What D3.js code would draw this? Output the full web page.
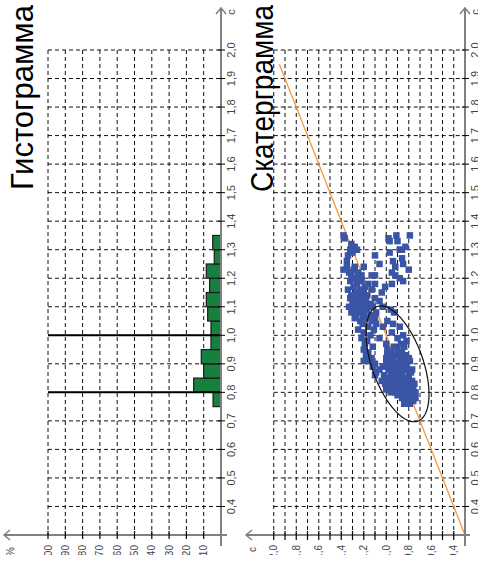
<!DOCTYPE html>
<html><head><meta charset="utf-8">
<script src="https://cdn.jsdelivr.net/npm/d3@7"></script>
<style>
body{margin:0;background:#fff}
svg{display:block}
text{font-family:"Liberation Sans",Arial,sans-serif}
</style>
</head><body>
<svg id="chart" width="478" height="564"></svg>
<script>
// ---------- data ----------
const titles = ["Гистограмма", "Скатерграмма"];
const axisUnitC = "c";
const axisUnitPct = "%";
const cTicks = [0.4,0.5,0.6,0.7,0.8,0.9,1.0,1.1,1.2,1.3,1.4,1.5,1.6,1.7,1.8,1.9,2.0];
const pctTicks = [10,20,30,40,50,60,70,80,90,100];
const vLabelTicks = [0.4,0.6,0.8,1.0,1.2,1.4,1.6,1.8,2.0];
const binStarts = [0.75,0.80,0.85,0.90,0.95,1.00,1.05,1.10,1.15,1.20,1.25,1.30];
const binPercents = [4.6,15.8,10.0,11.4,5.8,5.8,7.7,8.5,6.6,8.5,3.9,4.8];
const binWidth = 0.05;
const refLines = [0.8, 1.0];
const fitLine = [0.3, 1.95];
const ellipseCenter = [0.9, 0.9];   // [c, v]
const ellipseSd = [0.203, 0.28];     // [c, v]
const ellipseR = 0.525;
// scatter points: [c (horizontal value), v (vertical value)]
const scatterPoints = [
[1.35,0.79],[1.35,0.91],[1.34,0.98],[1.33,0.97],[1.33,0.90],[1.34,1.37],[1.35,1.38],[1.32,1.31],[1.31,1.28],[1.30,1.32],[1.30,1.26],[1.30,0.88],[1.30,0.86],[1.31,0.83],
[1.29,0.97],[1.28,1.10],[1.28,1.34],[1.26,1.35],[1.26,0.94],[1.27,0.86],[1.25,0.85],[1.25,1.06],[1.29,1.30],
[1.24,1.35],[1.24,0.92],[1.23,0.80],[1.23,1.29],[1.22,1.25],[1.21,1.31],[1.20,1.26],[1.21,1.13],[1.21,1.10],[1.21,0.92],[1.20,0.88],[1.24,1.20],[1.22,1.33],[1.23,1.38],[1.20,1.30],[1.22,0.95],[1.24,1.28],[1.21,1.22],
[1.19,1.22],[1.19,0.85],[1.18,1.16],[1.18,1.10],[1.16,1.13],[1.17,1.29],[1.16,1.23],[1.18,0.95],[1.17,1.01],[1.19,1.32],[1.18,1.26],[1.16,1.34],[1.15,1.27],[1.17,1.19],[1.15,1.20],
[1.15,1.04],[1.14,1.31],[1.14,1.23],[1.14,1.17],[1.13,1.32],[1.13,1.27],[1.13,1.21],[1.13,1.10],[1.12,1.30],[1.12,1.24],[1.12,1.18],[1.12,1.06],[1.11,1.28],[1.11,1.22],[1.11,1.14],[1.10,1.33],[1.10,1.26],[1.10,1.19],
[1.10,1.12],[1.10,1.03],[1.09,1.29],[1.09,1.23],[1.09,1.17],[1.09,0.96],[1.08,1.31],[1.08,1.25],[1.08,1.20],[1.08,1.09],[1.08,0.93],[1.07,1.27],[1.07,1.21],[1.07,1.14],[1.06,1.28],[1.06,1.17],[1.06,1.10],[1.05,1.23],
[1.05,1.13],[1.05,0.99],[1.04,1.21],[1.04,1.09],[1.04,0.94],[1.03,1.16],[1.03,1.03],[1.03,0.88],[1.02,1.25],[1.02,1.11],[1.01,1.20],[1.01,0.95],[1.00,1.14],[1.00,0.85],
[0.99,1.22],[0.99,1.06],[0.99,0.90],[0.98,1.17],[0.98,0.82],[0.97,1.19],[0.97,1.00],[0.97,0.87],[0.96,1.12],[0.96,0.93],[0.96,0.84],[0.95,1.20],[0.95,0.99],[0.95,0.90],
[0.94,1.16],[0.94,0.99],[0.94,0.96],[0.94,0.86],[0.93,1.18],[0.93,0.99],[0.93,0.91],[0.93,0.83],[0.92,1.13],[0.92,1.00],[0.92,0.94],[0.92,0.88],[0.92,0.80],[0.91,1.15],[0.91,1.20],[0.91,0.97],[0.91,0.85],[0.90,1.10],[0.90,1.00],[0.90,0.92],[0.90,0.87],[0.90,0.82],[0.91,0.79],[0.93,0.95],[0.94,0.90],[0.92,1.16],
[0.89,1.12],[0.89,1.03],[0.89,0.95],[0.89,0.84],[0.88,1.06],[0.88,0.98],[0.88,0.90],[0.88,0.81],[0.87,1.09],[0.87,0.93],[0.87,0.86],[0.86,1.02],[0.86,0.96],[0.86,0.88],[0.86,0.80],[0.85,1.00],[0.85,0.91],[0.85,0.84],[0.87,0.78],[0.86,1.10],[0.88,0.77],[0.89,0.88],
[0.84,1.04],[0.84,0.97],[0.84,0.89],[0.84,0.82],[0.84,0.77],[0.83,1.01],[0.83,0.93],[0.83,0.86],[0.83,0.79],[0.82,0.98],[0.82,0.90],[0.82,0.84],[0.82,0.76],[0.81,1.00],[0.81,0.95],[0.81,0.87],[0.81,0.81],[0.80,0.92],[0.80,0.85],[0.80,0.78],[0.80,0.74],[0.83,0.97],[0.82,0.80],[0.81,0.91],[0.84,0.93],[0.80,0.88],[0.83,0.75],[0.81,0.84],[0.82,0.94],[0.84,0.85],[0.80,0.96],[0.81,0.77],
[0.79,0.90],[0.79,0.83],[0.79,0.77],[0.78,0.86],[0.78,0.80],[0.77,0.82],[0.77,0.76],[0.76,0.79],[0.76,0.84],[0.78,0.74]
];

// ---------- scales ----------
const cDomain = [0.3, 2.0];
const yC = d3.scaleLinear().domain(cDomain).range([535, 50]);
const xP = d3.scaleLinear().domain([0, 100]).range([221, 48]);
const xV = d3.scaleLinear().domain(cDomain).range([465, 273.75]);
const fmt = v => d3.format(".1f")(v).replace(".", ",");

const svg = d3.select("#chart");
svg.append("defs").append("clipPath").attr("id","clip")
  .append("rect").attr("x",0).attr("y",0).attr("width",478).attr("height",555);
const root = svg.append("g").attr("clip-path","url(#clip)");

const AX = "#808080", GRID = "#111", DASH = "4,3";
const LBL = "#444";

function rotText(g, x, y, txt, anchor, size, color){
  return g.append("text").attr("x",x).attr("y",y)
    .attr("transform",`rotate(-90,${x},${y})`)
    .attr("text-anchor",anchor).attr("font-size",size).attr("fill",color||LBL).text(txt);
}

function axes(g, axisX, hLeft, hRight){
  g.append("line").attr("x1",axisX).attr("x2",axisX).attr("y1",8).attr("y2",546)
    .attr("stroke",AX).attr("stroke-width",2);
  g.append("path").attr("d",`M${axisX-5},14L${axisX},8L${axisX+5},14`)
    .attr("fill","none").attr("stroke",AX).attr("stroke-width",1.5);
  g.append("line").attr("x1",hLeft).attr("x2",hRight).attr("y1",yC(0.3)).attr("y2",yC(0.3))
    .attr("stroke",AX).attr("stroke-width",2);
  g.append("path").attr("d",`M${hLeft+6},${yC(0.3)-5}L${hLeft},${yC(0.3)}L${hLeft+6},${yC(0.3)+5}`)
    .attr("fill","none").attr("stroke",AX).attr("stroke-width",1.5);
  g.selectAll(null).data(cTicks).enter().append("line")
    .attr("x1",axisX-3).attr("x2",axisX+4).attr("y1",d=>yC(d)).attr("y2",d=>yC(d))
    .attr("stroke","#000").attr("stroke-width",1);
  cTicks.forEach(c => rotText(g, axisX+14, yC(c), fmt(c), "middle", 11));
  rotText(g, axisX+14, 12, axisUnitC, "middle", 11);
}

// ---------- histogram ----------
const hg = root.append("g");
hg.selectAll(null).data(pctTicks).enter().append("line")
  .attr("x1",d=>xP(d)).attr("x2",d=>xP(d)).attr("y1",yC(2.0)).attr("y2",yC(0.3))
  .attr("stroke",GRID).attr("stroke-dasharray",DASH);
hg.selectAll(null).data(cTicks).enter().append("line")
  .attr("x1",xP(100)).attr("x2",xP(0)).attr("y1",d=>yC(d)).attr("y2",d=>yC(d))
  .attr("stroke",GRID).attr("stroke-dasharray",DASH);
hg.selectAll(null).data(binStarts).enter().append("rect")
  .attr("x",(d,i)=>xP(binPercents[i]))
  .attr("y",d=>yC(d+binWidth))
  .attr("width",(d,i)=>xP(0)-xP(binPercents[i]))
  .attr("height",d=>yC(d)-yC(d+binWidth))
  .attr("fill","#16803f").attr("stroke","#1b1b1b").attr("stroke-width",1.2);
hg.selectAll(null).data(refLines).enter().append("line")
  .attr("x1",xP(100)).attr("x2",xP(0)+1).attr("y1",d=>yC(d)).attr("y2",d=>yC(d))
  .attr("stroke","#000").attr("stroke-width",2);
axes(hg, xP(0), 4, xP(0)+6);
hg.selectAll(null).data(pctTicks).enter().append("line")
  .attr("x1",d=>xP(d)).attr("x2",d=>xP(d)).attr("y1",yC(0.3)-4).attr("y2",yC(0.3)+4)
  .attr("stroke","#000").attr("stroke-width",1.2);
pctTicks.forEach(p => rotText(hg, xP(p)+3.5, 545, String(p), "end", 10));
rotText(hg, 14, 547, axisUnitPct, "end", 10);
rotText(hg, 33, 190, titles[0], "start", 31, "#000")
  .attr("textLength",185).attr("lengthAdjust","spacingAndGlyphs");

// ---------- scatter ----------
const sg = root.append("g");
const vTicks = cTicks;
sg.selectAll(null).data(vTicks).enter().append("line")
  .attr("x1",d=>xV(d)).attr("x2",d=>xV(d)).attr("y1",yC(2.0)).attr("y2",yC(0.3))
  .attr("stroke",GRID).attr("stroke-dasharray",DASH);
sg.selectAll(null).data(cTicks).enter().append("line")
  .attr("x1",xV(2.0)).attr("x2",xV(0.3)).attr("y1",d=>yC(d)).attr("y2",d=>yC(d))
  .attr("stroke",GRID).attr("stroke-dasharray",DASH);
sg.append("line")
  .attr("x1",xV(fitLine[0])).attr("y1",yC(fitLine[0]))
  .attr("x2",xV(fitLine[1])).attr("y2",yC(fitLine[1]))
  .attr("stroke","#f39a3e").attr("stroke-width",1.3);
const ps = 6.5;
sg.selectAll(null).data(scatterPoints).enter().append("rect")
  .attr("x",d=>xV(d[1])-ps/2).attr("y",d=>yC(d[0])-ps/2)
  .attr("width",ps).attr("height",ps).attr("fill","#3a55a6");
const tt = d3.range(0, 2*Math.PI+0.01, Math.PI/90);
const ell = tt.map(t => {
  const c = ellipseCenter[0] + ellipseSd[0]*Math.cos(t);
  const v = ellipseCenter[1] + ellipseSd[1]*(ellipseR*Math.cos(t) + Math.sqrt(1-ellipseR*ellipseR)*Math.sin(t));
  return [xV(v), yC(c)];
});
sg.append("path").attr("d", d3.line()(ell)+"Z")
  .attr("fill","none").attr("stroke","#111").attr("stroke-width",1.2);
axes(sg, xV(0.3), 246, xV(0.3)+5);
sg.selectAll(null).data(vTicks).enter().append("line")
  .attr("x1",d=>xV(d)).attr("x2",d=>xV(d)).attr("y1",yC(0.3)-4).attr("y2",yC(0.3)+5)
  .attr("stroke","#000").attr("stroke-width",1.2);
vLabelTicks.forEach(v => rotText(sg, xV(v)+3.5, 545, fmt(v), "end", 10));
rotText(sg, 256, 547, axisUnitC, "end", 10);
rotText(sg, 273, 192, titles[1], "start", 31, "#000")
  .attr("textLength",187).attr("lengthAdjust","spacingAndGlyphs");
</script>
</body></html>
